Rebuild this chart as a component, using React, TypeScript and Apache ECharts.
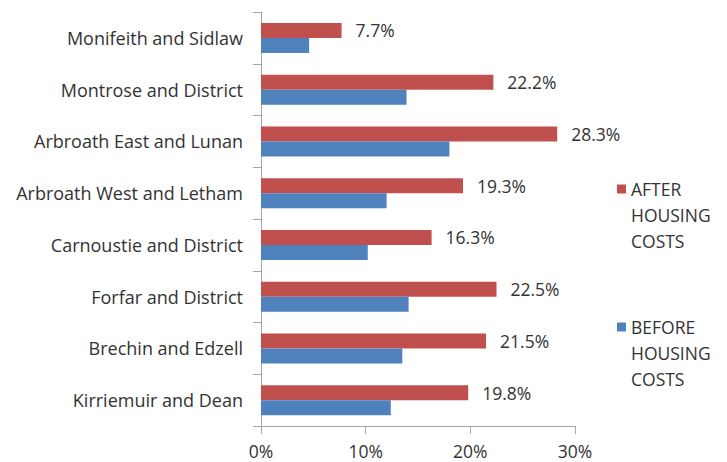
import React, { useEffect, useRef } from "react";
import * as echarts from "echarts";

const categories = [
  "Monifeith and Sidlaw",
  "Montrose and District",
  "Arbroath East and Lunan",
  "Arbroath West and Letham",
  "Carnoustie and District",
  "Forfar and District",
  "Brechin and Edzell",
  "Kirriemuir and Dean",
];
const afterHousing = [7.7, 22.2, 28.3, 19.3, 16.3, 22.5, 21.5, 19.8];
const beforeHousing = [4.6, 13.9, 18.0, 12.0, 10.2, 14.1, 13.5, 12.4];
const xTicks = [0, 10, 20, 30];
const seriesNames = ["AFTER HOUSING COSTS", "BEFORE HOUSING COSTS"];

const FONT = "'Open Sans', Lato, sans-serif";
const TEXT = "#333333";
const FS = 17.5;

export default function App() {
  const ref = useRef<HTMLDivElement>(null);
  useEffect(() => {
    if (!ref.current) return;
    const chart = echarts.init(ref.current, undefined, { renderer: "svg" });
    chart.setOption({
      animation: false,
      backgroundColor: "#ffffff",
      textStyle: { fontFamily: FONT },
      grid: { left: 261, right: 152, top: 12, bottom: 36, containLabel: false },
      legend: {
        orient: "vertical",
        left: 617,
        top: 124,
        padding: 0,
        itemWidth: 9,
        itemHeight: 9,
        itemGap: 8,
        icon: "rect",
        data: seriesNames,
        formatter: (name: string) => "\n\n" + name.split(" ").join("\n"),
        textStyle: {
          fontFamily: FONT,
          fontSize: FS,
          color: TEXT,
          lineHeight: 26,
        },
      },
      xAxis: {
        type: "value",
        min: xTicks[0],
        max: xTicks[xTicks.length - 1],
        interval: 10,
        axisLine: { show: true, lineStyle: { color: "#a6a6a6" } },
        axisTick: { show: true, length: 8, lineStyle: { color: "#a6a6a6" } },
        splitLine: { show: false },
        axisLabel: {
          formatter: "{value}%",
          fontSize: FS,
          lineHeight: 18,
          color: TEXT,
          margin: 16,
          fontFamily: FONT,
        },
      },
      yAxis: {
        type: "category",
        data: categories,
        inverse: true,
        axisLine: { show: true, lineStyle: { color: "#a6a6a6" } },
        axisTick: { show: true, length: 8, lineStyle: { color: "#a6a6a6" } },
        axisLabel: { fontSize: 18, color: TEXT, margin: 18, fontFamily: FONT },
      },
      series: [
        {
          name: seriesNames[0],
          type: "bar",
          data: afterHousing,
          barWidth: 15,
          barGap: "0%",
          itemStyle: { color: "#C0504D" },
          label: {
            show: true,
            position: "right",
            distance: 14,
            formatter: (p: any) => p.value.toFixed(1) + "%",
            fontSize: FS,
            color: TEXT,
            fontFamily: FONT,
          },
        },
        {
          name: seriesNames[1],
          type: "bar",
          data: beforeHousing,
          barWidth: 15,
          barGap: "0%",
          itemStyle: { color: "#4F81BD" },
        },
      ],
    });
    return () => chart.dispose();
  }, []);
  return (
    <div
      ref={ref}
      style={{ position: "fixed", left: 0, top: 0, width: 727, height: 462 }}
    />
  );
}
